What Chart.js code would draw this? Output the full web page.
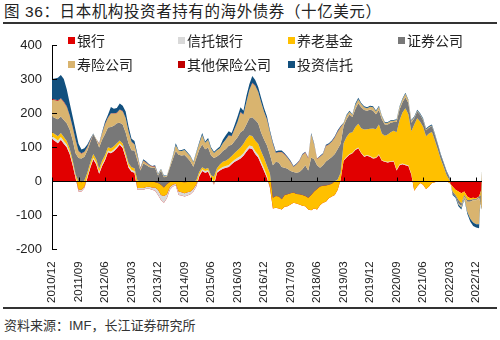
<!DOCTYPE html>
<html>
<head>
<meta charset="utf-8">
<script src="https://cdn.jsdelivr.net/npm/chart.js@4.4.1/dist/chart.umd.min.js"></script>
<style>
  body { margin: 0; width: 500px; height: 340px; background: #fff; position: relative; overflow: hidden;
         font-family: 'Liberation Sans', Arial, 'Noto Sans CJK SC', sans-serif; color: #222; }
  #title { position: absolute; left: 4px; top: 3px; font-size: 15.5px; line-height: 18px; color: #222; letter-spacing: 0.6px; white-space: nowrap; }
  .rule { position: absolute; left: 3px; width: 494px; height: 1.5px; background: #333; }
  #source { position: absolute; left: 4px; top: 317px; font-size: 13px; line-height: 18px; color: #333; white-space: nowrap; }
  #wrap { position: absolute; left: 0; top: 0; width: 500px; height: 307px; }
  .lg { position: absolute; font-size: 14px; line-height: 16px; white-space: nowrap; color: #222; }
  .lg i { display: inline-block; width: 7px; height: 7px; margin-right: 2px; vertical-align: 2px; }
</style>
</head>
<body>
<div id="title">图 36：日本机构投资者持有的海外债券（十亿美元）</div>
<div class="rule" style="top:22px"></div>
<div id="wrap"><canvas id="chart"></canvas></div>
<div id="legend"></div>
<div class="rule" style="top:307px"></div>
<div id="source">资料来源：IMF，长江证券研究所</div>
<script>
// 月度数据，2010/12 起（十亿美元）
const banks = [124,118,112,122,110,100,80,48,10,
  -30,-30,-20,
  10,40,65,50,22,45,62,85,82,88,97,107,98,70,40,28,25,
  -25,-25,-25,-22,-22,-25,-28,
  -40,-55,-63,
  -50,-25,-15,-12,
  -40,-42,-45,-42,-38,-30,-15,15,30,25,28,8,-10,25,32,37,40,42,50,57,62,67,75,87,97,95,80,70,
  50,30,10,-20,-80,-78,-80,-83,-75,-73,-68,-63,-65,-68,-72,-73,-83,-85,-80,-83,-70,-63,-60,-50,-45,-40,-25,5,
  60,70,78,82,92,97,82,72,75,72,67,68,77,60,57,55,57,58,32,47,50,47,45,20,
  -28,-15,-5,-10,-23,-15,-5,-3,0,0,0,0,-5,
  -15,-25,-30,-35,-30,-45,-50,-48,-50,-45,-20];
const trustBanks = [8,8,8,8,8,8,6,6,5,
  6,5,5,
  5,5,5,5,5,5,5,5,5,5,5,5,5,5,5,5,5,
  5,5,5,5,6,7,10,
  15,15,20,
  12,8,5,5,
  10,10,10,10,8,8,6,5,5,5,5,5,5,5,5,5,5,6,6,6,7,7,7,8,8,8,8,8,
  8,8,5,3,0,0,0,0,0,0,0,0,0,0,0,0,0,0,0,0,0,0,0,0,0,0,0,0,
  2,2,2,2,2,2,2,2,2,2,2,2,2,2,2,2,2,2,2,2,2,2,2,2,
  0,0,0,0,0,0,0,0,0,0,0,0,0,
  0,0,0,0,0,0,0,0,0,0,0];
const pension = [12,12,12,12,12,10,10,8,5,
  24,22,17,
  10,10,10,10,10,10,10,10,10,10,10,8,8,8,8,8,8,
  22,20,20,17,16,18,15,
  20,30,25,
  30,15,10,8,
  28,30,32,30,28,20,12,8,6,6,6,5,18,8,12,15,15,18,18,20,22,25,28,30,30,30,32,32,
  30,30,30,40,32,35,35,30,35,35,33,30,28,30,32,30,35,45,50,60,55,50,48,40,38,40,30,20,
  50,58,62,60,65,70,72,78,76,80,86,83,88,78,75,80,85,88,110,130,150,165,150,125,
  195,200,180,170,155,155,150,123,93,65,42,18,8,
  -15,-15,-25,-30,-10,-10,-5,-5,-3,0,-20];
const securities = [46,48,50,48,50,52,56,60,62,
  68,70,70,
  65,60,58,58,62,62,62,58,62,60,58,52,56,60,58,50,52,
  60,32,52,48,42,40,42,
  22,42,30,
  22,42,65,88,
  80,78,80,70,60,45,65,65,67,58,60,58,55,35,30,32,35,38,33,35,38,45,40,42,50,55,60,60,
  55,55,60,55,95,100,100,95,80,75,65,60,62,65,75,90,80,110,95,70,55,60,70,75,78,80,90,85,
  50,52,54,45,53,60,61,57,54,57,52,44,42,42,33,30,28,26,30,32,30,33,33,25,
  18,20,20,20,18,17,17,16,14,12,10,9,7,
  -8,-5,-10,-8,-5,-5,-5,-3,-3,-3,-43];
const lifeIns = [50,52,54,52,52,48,40,36,38,
  20,14,14,
  10,5,1,2,10,18,28,28,40,36,30,38,38,42,34,24,18,
  12,5,8,6,5,3,4,
  3,3,3,
  2,4,8,17,
  12,13,15,14,15,12,16,18,28,19,23,20,15,18,18,23,28,30,25,35,45,58,45,65,82,100,100,92,
  88,80,75,65,62,26,30,43,38,31,26,15,24,32,42,37,35,67,43,18,32,32,45,43,45,48,50,48,
  8,10,8,6,12,12,10,8,7,8,10,8,10,8,5,5,5,4,6,6,8,10,8,6,
  2,2,2,2,2,2,2,1,0,0,0,0,0,
  0,0,-3,-5,-5,-30,-50,-65,-70,-78,113];
const otherIns = [2,2,2,2,2,2,2,2,2,
  1,1,1,
  1,1,0,0,1,1,1,1,1,1,1,1,1,1,1,1,1,
  1,1,1,1,1,1,1,
  0,0,0,
  0,0,0,0,
  0,0,0,0,0,0,0,0,0,0,0,0,0,0,0,0,0,1,1,1,1,1,1,1,1,1,1,1,
  1,1,1,1,1,1,1,1,1,1,1,1,1,1,1,1,1,1,1,1,1,1,1,1,1,1,1,1,
  0,0,0,0,0,0,0,0,0,0,0,0,0,0,0,0,0,0,0,0,0,0,0,0,
  0,0,0,0,0,0,0,0,0,0,0,0,0,
  0,0,0,0,0,0,0,0,0,0,0];
const invTrusts = [58,62,66,68,66,50,36,30,28,
  21,11,10,
  7,4,1,0,2,4,7,8,18,13,14,17,16,19,14,9,9,
  5,2,4,3,2,1,3,
  2,2,2,
  1,1,2,6,
  2,3,3,3,2,2,3,4,6,4,5,4,4,4,5,10,12,12,9,11,15,14,11,17,17,20,16,14,
  13,11,9,6,5,4,4,4,3,3,3,2,2,2,2,2,2,4,3,1,2,2,3,3,3,3,4,3,
  2,3,3,2,4,4,3,3,3,3,3,3,3,2,2,2,2,2,2,3,3,3,2,2,
  3,3,3,3,3,3,3,3,3,3,3,3,2,
  -2,-3,-5,-5,-3,-5,-8,-10,-10,-12,-3];

const seriesNames = ['银行', '信托银行', '养老基金', '证券公司', '寿险公司', '其他保险公司', '投资信托'];
const seriesColors = ['#E10000', '#D9D9D9', '#FFC000', '#787878', '#D9B46F', '#C00000', '#12507E'];
const seriesData = [banks, trustBanks, pension, securities, lifeIns, otherIns, invTrusts];
const tickLabels = ['2010/12','2011/09','2012/06','2013/03','2013/12','2014/09','2015/06','2016/03','2016/12',
  '2017/09','2018/06','2019/03','2019/12','2020/09','2021/06','2022/03','2022/12'];
const yTicks = [-200, -100, 0, 100, 200, 300, 400];

const months = [];
for (let i = 0; i < banks.length; i++) {
  const t = 2010 * 12 + 11 + i;
  months.push(Math.floor(t / 12) + '/' + String(t % 12 + 1).padStart(2, '0'));
}

// Excel 式堆积：逐序列累加，后面的序列覆盖前面的
const running = new Array(banks.length).fill(0);
const datasets = seriesData.map((vals, k) => {
  const cum = vals.map((v, i) => (running[i] += v));
  return {
    label: seriesNames[k],
    data: cum.slice(),
    backgroundColor: seriesColors[k],
    borderColor: 'rgba(0,0,0,0)',
    borderWidth: 0,
    pointRadius: 0,
    tension: 0,
    fill: k === 0 ? 'origin' : '-1',
    order: seriesData.length - k
  };
});

const axisMarks = {
  id: 'axisMarks',
  afterDatasetsDraw(chart) {
    const { ctx, chartArea, scales: { x, y } } = chart;
    const y0 = Math.round(y.getPixelForValue(0)) + 0.5;
    ctx.save();
    ctx.strokeStyle = '#000';
    ctx.lineWidth = 1;
    ctx.beginPath();
    ctx.moveTo(chartArea.left, y0);
    ctx.lineTo(chartArea.right, y0);
    months.forEach((m, i) => {
      if (tickLabels.includes(m)) {
        const px = Math.round(x.getPixelForValue(i)) + 0.5;
        ctx.moveTo(px, y0);
        ctx.lineTo(px, y0 - 4);
      }
    });
    yTicks.forEach(v => {
      const py = Math.round(y.getPixelForValue(v)) + 0.5;
      ctx.moveTo(chartArea.left, py);
      ctx.lineTo(chartArea.left + 5, py);
    });
    ctx.stroke();
    ctx.restore();
  }
};

new Chart(document.getElementById('chart'), {
  type: 'line',
  data: { labels: months, datasets },
  options: {
    responsive: true,
    maintainAspectRatio: false,
    animation: false,
    layout: { padding: { left: 6, right: 18, top: 45, bottom: 0 } },
    plugins: {
      legend: { display: false },
      tooltip: { enabled: false },
      filler: { drawTime: 'beforeDatasetDraw' }
    },
    scales: {
      x: {
        offset: false,
        grid: { display: false },
        border: { display: false },
        ticks: {
          autoSkip: false,
          maxRotation: 90,
          minRotation: 90,
          padding: 4,
          color: '#222',
          font: { family: "'Liberation Sans', Arial, sans-serif", size: 11.5 },
          callback: function (value) {
            const lab = this.getLabelForValue(value);
            return tickLabels.includes(lab) ? lab : '';
          }
        }
      },
      y: {
        min: -200,
        max: 400,
        grid: { display: true, drawOnChartArea: false, drawTicks: false },
        border: { display: true, color: '#000', width: 1 },
        ticks: {
          stepSize: 100,
          padding: 10,
          color: '#222',
          font: { family: "'Liberation Sans', Arial, sans-serif", size: 13 }
        }
      }
    }
  },
  plugins: [axisMarks]
});

// 图例（两行：4 + 3）
const legendPos = [[68, 33], [178, 33], [288, 33], [398, 33], [68, 57], [178, 57], [288, 57]];
const lg = document.getElementById('legend');
seriesNames.forEach((n, k) => {
  const d = document.createElement('div');
  d.className = 'lg';
  d.style.left = legendPos[k][0] + 'px';
  d.style.top = legendPos[k][1] + 'px';
  d.innerHTML = '<i style="background:' + seriesColors[k] + '"></i>' + n;
  lg.appendChild(d);
});
</script>
</body>
</html>
